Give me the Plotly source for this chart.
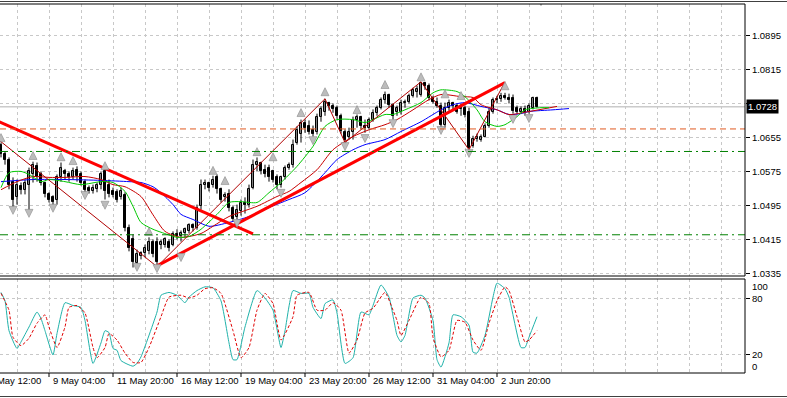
import plotly.graph_objects as go

# ---------------- data ----------------
open_ = [1.0639,1.0616,1.0604,1.0552,1.0515,1.0541,1.0533,1.0545,1.0569,1.0590,
         1.0571,1.0548,1.0522,1.0515,1.0510,1.0562,1.0578,1.0569,1.0562,1.0580,
         1.0571,1.0552,1.0538,1.0531,1.0534,1.0545,1.0576,1.0545,1.0530,1.0527,
         1.0515,1.0520,1.0444,1.0416,1.0360,1.0378,1.0383,1.0388,1.0411,1.0411,
         1.0404,1.0402,1.0411,1.0404,1.0430,1.0425,1.0432,1.0437,1.0449,1.0444,
         1.0494,1.0545,1.0548,1.0543,1.0562,1.0534,1.0515,1.0522,1.0491,1.0468,
         1.0482,1.0501,1.0498,1.0538,1.0592,1.0595,1.0580,1.0585,1.0576,1.0564,
         1.0543,1.0562,1.0585,1.0592,1.0644,1.0663,1.0691,1.0684,1.0674,1.0670,
         1.0703,1.0717,1.0736,1.0731,1.0726,1.0707,1.0670,1.0656,1.0670,1.0698,
         1.0703,1.0684,1.0679,1.0696,1.0714,1.0726,1.0745,1.0757,1.0733,1.0717,
         1.0717,1.0736,1.0740,1.0754,1.0764,1.0757,1.0783,1.0778,1.0750,1.0740,
         1.0731,1.0686,1.0726,1.0736,1.0729,1.0722,1.0726,1.0717,1.0637,1.0653,
         1.0651,1.0658,1.0682,1.0717,1.0743,1.0747,1.0754,1.0750,1.0750,1.0726,
         1.0717,1.0722,1.0717,1.0726,1.0750]
high = [1.0644,1.0623,1.0609,1.0562,1.0557,1.0550,1.0557,1.0585,1.0599,1.0597,
        1.0576,1.0552,1.0527,1.0520,1.0569,1.0597,1.0582,1.0576,1.0585,1.0588,
        1.0576,1.0557,1.0543,1.0545,1.0550,1.0576,1.0592,1.0557,1.0538,1.0534,
        1.0538,1.0527,1.0451,1.0428,1.0392,1.0388,1.0404,1.0421,1.0416,1.0421,
        1.0416,1.0421,1.0416,1.0435,1.0440,1.0437,1.0444,1.0454,1.0454,1.0498,
        1.0557,1.0557,1.0552,1.0566,1.0569,1.0538,1.0527,1.0534,1.0496,1.0498,
        1.0510,1.0515,1.0545,1.0604,1.0609,1.0599,1.0592,1.0592,1.0580,1.0569,
        1.0566,1.0590,1.0597,1.0651,1.0682,1.0698,1.0698,1.0696,1.0684,1.0712,
        1.0729,1.0747,1.0740,1.0736,1.0731,1.0712,1.0675,1.0679,1.0705,1.0710,
        1.0707,1.0698,1.0703,1.0722,1.0731,1.0750,1.0764,1.0759,1.0736,1.0731,
        1.0745,1.0745,1.0759,1.0773,1.0778,1.0787,1.0787,1.0783,1.0754,1.0750,
        1.0738,1.0738,1.0745,1.0740,1.0736,1.0736,1.0731,1.0726,1.0660,1.0665,
        1.0663,1.0689,1.0726,1.0750,1.0754,1.0761,1.0761,1.0759,1.0757,1.0731,
        1.0729,1.0731,1.0736,1.0752,1.0752]
low = [1.0609,1.0592,1.0534,1.0491,1.0498,1.0522,1.0522,1.0482,1.0550,1.0552,
       1.0543,1.0515,1.0503,1.0496,1.0498,1.0552,1.0557,1.0552,1.0557,1.0552,
       1.0543,1.0527,1.0524,1.0524,1.0527,1.0534,1.0510,1.0515,1.0515,1.0503,
       1.0510,1.0435,1.0388,1.0350,1.0350,1.0369,1.0374,1.0381,1.0374,1.0350,
       1.0393,1.0397,1.0388,1.0400,1.0416,1.0411,1.0421,1.0430,1.0435,1.0439,
       1.0486,1.0534,1.0529,1.0538,1.0524,1.0503,1.0505,1.0482,1.0458,1.0463,
       1.0472,1.0477,1.0491,1.0534,1.0576,1.0569,1.0562,1.0552,1.0550,1.0534,
       1.0538,1.0557,1.0580,1.0585,1.0639,1.0644,1.0667,1.0663,1.0658,1.0663,
       1.0693,1.0707,1.0719,1.0714,1.0700,1.0665,1.0644,1.0651,1.0651,1.0679,
       1.0675,1.0667,1.0675,1.0693,1.0707,1.0722,1.0736,1.0726,1.0698,1.0707,
       1.0710,1.0726,1.0736,1.0750,1.0750,1.0752,1.0768,1.0743,1.0736,1.0726,
       1.0679,1.0679,1.0719,1.0722,1.0712,1.0707,1.0703,1.0625,1.0632,1.0646,
       1.0646,1.0656,1.0679,1.0712,1.0736,1.0740,1.0745,1.0736,1.0712,1.0712,
       1.0712,1.0707,1.0712,1.0722,1.0726]
close = [1.0616,1.0604,1.0545,1.0510,1.0545,1.0533,1.0548,1.0576,1.0592,1.0562,
         1.0550,1.0522,1.0510,1.0505,1.0562,1.0585,1.0569,1.0562,1.0576,1.0566,
         1.0548,1.0533,1.0529,1.0538,1.0545,1.0569,1.0529,1.0522,1.0520,1.0510,
         1.0529,1.0444,1.0397,1.0362,1.0381,1.0383,1.0397,1.0411,1.0381,1.0364,
         1.0411,1.0416,1.0397,1.0430,1.0425,1.0432,1.0440,1.0449,1.0444,1.0491,
         1.0545,1.0550,1.0538,1.0557,1.0534,1.0510,1.0520,1.0491,1.0463,1.0486,
         1.0501,1.0496,1.0534,1.0592,1.0599,1.0576,1.0569,1.0562,1.0557,1.0543,
         1.0562,1.0585,1.0592,1.0639,1.0674,1.0689,1.0679,1.0670,1.0665,1.0705,
         1.0722,1.0740,1.0731,1.0722,1.0707,1.0672,1.0651,1.0670,1.0698,1.0703,
         1.0684,1.0679,1.0696,1.0714,1.0726,1.0745,1.0757,1.0733,1.0707,1.0726,
         1.0736,1.0740,1.0754,1.0768,1.0771,1.0783,1.0778,1.0750,1.0740,1.0731,
         1.0686,1.0726,1.0736,1.0729,1.0717,1.0726,1.0710,1.0632,1.0653,1.0658,
         1.0658,1.0682,1.0717,1.0743,1.0747,1.0754,1.0750,1.0745,1.0719,1.0717,
         1.0722,1.0717,1.0729,1.0750,1.0728]

# Alligator lines (bar index, price)
jaw_x = [0,8,16,25,32,35,38,40,43,45,48,52,57,62,67,72,76,81,84,88,91,96,100,105,110,113,116,120,124,127,130,132,138,142]
jaw_y = [1.0552,1.0557,1.0557,1.0555,1.0552,1.0550,1.0540,1.0526,1.0498,1.0475,1.0463,1.0447,1.0456,1.0470,1.0491,1.0510,
         1.0526,1.0573,1.0604,1.0627,1.0639,1.0651,1.0670,1.0693,1.0721,1.0733,1.0738,1.0729,1.0721,1.0710,1.0712,1.0717,1.0721,1.0724]
teeth_x = [0,4,8,12,16,21,25,28,31,35,38,41,45,50,53,57,64,69,72,75,79,83,88,92,96,99,103,107,110,115,118,120,124,127,132,139]
teeth_y = [1.0533,1.0552,1.0564,1.0562,1.0562,1.0564,1.0557,1.0545,1.0540,1.0517,1.0474,1.0435,1.0421,1.0430,1.0447,1.0470,
           1.0494,1.0517,1.0529,1.0550,1.0580,1.0627,1.0658,1.0674,1.0686,1.0698,1.0721,1.0745,1.0757,1.0752,1.0750,1.0733,
           1.0721,1.0710,1.0717,1.0729]
lips_x = [0,2,5,7,10,12,16,20,25,28,31,33,35,38,40,44,47,50,54,57,60,64,67,70,74,78,81,84,88,91,93,96,98,101,105,108,110,
          114,116,119,121,124,126,129,131,135,137]
lips_y = [1.0538,1.0573,1.0576,1.0569,1.0552,1.0557,1.0552,1.0545,1.0552,1.0550,1.0529,1.0494,1.0456,1.0440,1.0433,1.0421,
          1.0423,1.0440,1.0475,1.0503,1.0505,1.0503,1.0526,1.0550,1.0588,1.0635,1.0682,1.0698,1.0698,1.0691,1.0698,1.0710,
          1.0710,1.0721,1.0738,1.0761,1.0768,1.0764,1.0752,1.0721,1.0693,1.0682,1.0686,1.0705,1.0721,1.0726,1.0726]

# Fractals
frac_up_x = [0,8,15,18,26,37,53,56,64,68,75,81,89,96,105,111,115,126]
frac_up_y = [1.0665,1.0623,1.0620,1.0611,1.0599,1.0444,1.0588,1.0564,1.0632,1.0620,1.0724,1.0773,1.0731,1.0790,1.0808,1.0768,1.0764,1.0787]
frac_dn_x = [3,7,13,21,26,34,39,45,59,70,78,86,91,98,110,117,128,132,135]
frac_dn_y = [1.0475,1.0468,1.0480,1.0510,1.0487,1.0341,1.0338,1.0364,1.0444,1.0515,1.0639,1.0625,1.0644,1.0679,1.0663,1.0609,1.0689,1.0691,1.0966]

# ZigZag
zz_x = [-2,39,81,86,105,117,126]
zz_y = [1.0661,1.0352,1.0747,1.0644,1.0787,1.0627,1.0787]

# Trend lines
tl_down_x = [-1,63]
tl_down_y = [1.0695,1.0429]
tl_up_x = [39,126]
tl_up_y = [1.0354,1.0785]

# Horizontal levels
level_orange = 1.0676
levels_green = [1.0623,1.0427]

# Stochastic
st_x = [0,1,2,4,5,7,9,10,11,13,14,16,18,20,21,23,25,26,27,28,29,30,33,34,35,39,40,42,44,46,47,49,51,53,55,57,58,59,61,64,
        66,68,70,71,73,75,77,78,80,81,83,84,86,88,90,92,93,95,97,99,100,101,103,105,106,108,109,110,112,113,115,117,118,119,
        121,123,124,126,127,130,131,132,134]
st_v = [86,77,45,26,33,49,65,58,45,19,42,75,72,70,56,10,32,45,43,26,24,13,7,10,17,65,83,86,83,75,81,88,92,91,77,32,14,14,49,88,
        80,67,27,45,88,85,85,70,58,74,78,64,10,16,65,62,72,94,81,40,33,40,80,83,80,56,14,6,32,62,60,51,22,21,40,81,96,90,81,27,
        27,38,60]
sg_x = [0,2,3,5,7,9,11,12,14,16,17,19,21,23,24,26,27,29,31,33,35,37,40,42,45,47,49,51,53,55,58,60,62,64,66,68,70,73,74,77,
        79,81,83,85,87,89,91,93,96,98,99,100,102,105,107,108,110,112,114,116,118,120,122,124,126,127,129,131,132,134]
sg_v = [85,67,38,29,37,53,62,49,27,49,70,72,64,27,16,27,42,35,21,11,11,27,60,81,83,80,83,90,91,85,45,16,27,67,85,74,35,60,83,86,
        67,67,75,67,21,35,64,69,86,67,56,40,56,81,74,38,17,24,56,54,35,24,53,77,92,88,60,33,35,45]

# Axis ticks
date_pos = [-4,12,28,44,60,76,92,108,124]
date_lab = ["4 May 12:00","9 May 04:00","11 May 20:00","16 May 12:00","19 May 04:00",
            "23 May 20:00","26 May 12:00","31 May 04:00","2 Jun 20:00"]
price_ticks = [1.0335,1.0415,1.0495,1.0575,1.0655,1.0735,1.0815,1.0895]
price_labels = ["1.0335","1.0415","1.0495","1.0575","1.0655","","1.0815","1.0895"]
stoch_levels = [20,80]
stoch_labels = [(100,"100",-7),(80,"80",0),(20,"20",0),(0,"0",6)]

# ---------------- figure ----------------
W, H = 787, 398
ML, MR, MT, MB = 0, 42, 4, 25
PH = H - MT - MB
main_bottom = (H - MB - 276) / PH
stoch_top = (H - MB - 279) / PH
FONT = "Liberation Sans, Arial, sans-serif"
GRID = "#c8c8c8"
FS = 9.5
XR = [-0.25, 186]

fig = go.Figure()

n = len(close)
bars = list(range(n))
wx, wy = [], []
for i in bars:
    wx += [i, i, None]
    wy += [low[i], high[i], None]
fig.add_trace(go.Scatter(x=wx, y=wy, mode="lines", line=dict(color="black", width=1),
                         hoverinfo="skip", showlegend=False))
up = [i for i in bars if close[i] >= open_[i]]
dn = [i for i in bars if close[i] < open_[i]]
fig.add_trace(go.Bar(x=up, base=[open_[i] for i in up], y=[close[i] - open_[i] for i in up],
                     width=0.6, marker=dict(color="white", line=dict(color="black", width=1)),
                     showlegend=False, hoverinfo="skip"))
fig.add_trace(go.Bar(x=dn, base=[close[i] for i in dn], y=[open_[i] - close[i] for i in dn],
                     width=0.6, marker=dict(color="black", line=dict(color="black", width=1)),
                     showlegend=False, hoverinfo="skip"))

# alligator
fig.add_trace(go.Scatter(x=jaw_x, y=jaw_y, mode="lines", line=dict(color="#0000ff", width=1, shape="spline", smoothing=0.7),
                         showlegend=False, hoverinfo="skip"))
fig.add_trace(go.Scatter(x=teeth_x, y=teeth_y, mode="lines", line=dict(color="#c80000", width=1, shape="spline", smoothing=0.7),
                         showlegend=False, hoverinfo="skip"))
fig.add_trace(go.Scatter(x=lips_x, y=lips_y, mode="lines", line=dict(color="#00c800", width=1, shape="spline", smoothing=0.7),
                         showlegend=False, hoverinfo="skip"))
# zigzag
fig.add_trace(go.Scatter(x=zz_x, y=zz_y, mode="lines", line=dict(color="#b00000", width=1),
                         showlegend=False, hoverinfo="skip"))
# trend lines
fig.add_trace(go.Scatter(x=tl_down_x, y=tl_down_y, mode="lines", line=dict(color="#ff0000", width=3),
                         showlegend=False, hoverinfo="skip"))
fig.add_trace(go.Scatter(x=tl_up_x, y=tl_up_y, mode="lines", line=dict(color="#ff0000", width=3),
                         showlegend=False, hoverinfo="skip"))
# fractals
fig.add_trace(go.Scatter(x=frac_up_x, y=frac_up_y, mode="markers",
                         marker=dict(symbol="arrow-up", size=8, color="#bcbcbc", line=dict(color="#8c8c8c", width=0.6)),
                         showlegend=False, hoverinfo="skip"))
fig.add_trace(go.Scatter(x=frac_dn_x, y=frac_dn_y, mode="markers",
                         marker=dict(symbol="arrow-down", size=8, color="#bcbcbc", line=dict(color="#8c8c8c", width=0.6)),
                         showlegend=False, hoverinfo="skip"))

# stochastic
fig.add_trace(go.Scatter(x=st_x, y=st_v, mode="lines",
                         line=dict(color="#20b2aa", width=1, shape="spline", smoothing=0.5),
                         xaxis="x2", yaxis="y2", showlegend=False, hoverinfo="skip"))
fig.add_trace(go.Scatter(x=sg_x, y=sg_v, mode="lines",
                         line=dict(color="#e00000", width=1, dash="3px,2px", shape="spline", smoothing=0.5),
                         xaxis="x2", yaxis="y2", showlegend=False, hoverinfo="skip"))

shapes = []
# horizontal levels
shapes.append(dict(type="line", xref="paper", yref="y", x0=0, x1=1, y0=level_orange, y1=level_orange,
                   line=dict(color="#e05a20", width=1, dash="6px,4px")))
for lv in levels_green:
    shapes.append(dict(type="line", xref="paper", yref="y", x0=0, x1=1, y0=lv, y1=lv,
                       line=dict(color="#008000", width=1, dash="8px,4px,2px,4px")))
# current price line
shapes.append(dict(type="line", xref="paper", yref="y", x0=0, x1=1, y0=close[-1], y1=close[-1],
                   line=dict(color="#b0b0b0", width=1), layer="below"))
# panel borders
for (b, t) in [(main_bottom, 1.0), (0.0, stoch_top)]:
    shapes.append(dict(type="line", xref="paper", yref="paper", x0=0, x1=1, y0=t, y1=t, line=dict(color="black", width=1)))
    shapes.append(dict(type="line", xref="paper", yref="paper", x0=0, x1=1, y0=b, y1=b, line=dict(color="black", width=1)))
    shapes.append(dict(type="line", xref="paper", yref="paper", x0=1, x1=1, y0=b, y1=t, line=dict(color="black", width=1)))
# window frame lines
fw = W / (W - ML - MR)
shapes.append(dict(type="line", xref="paper", yref="paper", x0=0, x1=fw, y0=1 + 2.5 / PH, y1=1 + 2.5 / PH,
                   line=dict(color="#404040", width=1)))
shapes.append(dict(type="line", xref="paper", yref="paper", x0=0, x1=fw, y0=-23.5 / PH, y1=-23.5 / PH,
                   line=dict(color="#404040", width=1)))

annotations = []
for p, t in zip(date_pos, date_lab):
    px = (p - XR[0]) / (XR[1] - XR[0])  # position on the shared x scale, as paper fraction
    shapes.append(dict(type="line", xref="paper", yref="paper", x0=px, x1=px, y0=0, y1=-4 / PH,
                       line=dict(color="black", width=1)))
    annotations.append(dict(x=px, y=-8 / PH, xref="paper", yref="paper", text=t, showarrow=False,
                            xanchor="left", yanchor="middle", xshift=2,
                            font=dict(family=FONT, size=FS, color="black")))
for v, t, sh in stoch_labels:
    annotations.append(dict(x=1, y=v, xref="paper", yref="y2", text=t, showarrow=False,
                            xanchor="left", yanchor="middle", xshift=5, yshift=sh,
                            font=dict(family=FONT, size=FS, color="black")))
annotations.append(dict(x=1, y=close[-1], xref="paper", yref="y", text="%.4f" % close[-1], showarrow=False,
                        xanchor="left", yanchor="middle", xshift=1, bgcolor="black", borderpad=1,
                        font=dict(family=FONT, size=FS, color="white")))

xcommon = dict(range=XR, tickmode="linear", tick0=-4, dtick=8, showgrid=True, gridcolor=GRID,
               griddash="3px,3px", gridwidth=1, showticklabels=False, ticks="", zeroline=False, showline=False)

fig.update_layout(
    width=W, height=H, margin=dict(l=ML, r=MR, t=MT, b=MB, pad=0),
    paper_bgcolor="white", plot_bgcolor="white", barmode="overlay", bargap=0,
    showlegend=False, hovermode=False,
    xaxis=dict(domain=[0, 1], anchor="y", **xcommon),
    xaxis2=dict(domain=[0, 1], anchor="y2", matches="x", **xcommon),
    yaxis=dict(domain=[main_bottom, 1], range=[1.0330, 1.0970], side="right", tickmode="array",
               tickvals=price_ticks, ticktext=price_labels, ticks="outside", ticklen=4, tickcolor="black",
               showgrid=True, gridcolor=GRID, griddash="3px,3px", zeroline=False, showline=False,
               tickfont=dict(family=FONT, size=FS, color="black")),
    yaxis2=dict(domain=[0, stoch_top], range=[-0.3, 100.4], side="right", tickmode="array",
                tickvals=stoch_levels, showticklabels=False, ticks="outside", ticklen=4, tickcolor="black",
                showgrid=True, gridcolor=GRID, griddash="3px,3px", zeroline=False, showline=False),
    shapes=shapes, annotations=annotations,
)

fig.write_html("out.html", config={"displayModeBar": False},
               post_script="document.body.style.margin='0';document.body.style.overflow='hidden';")
